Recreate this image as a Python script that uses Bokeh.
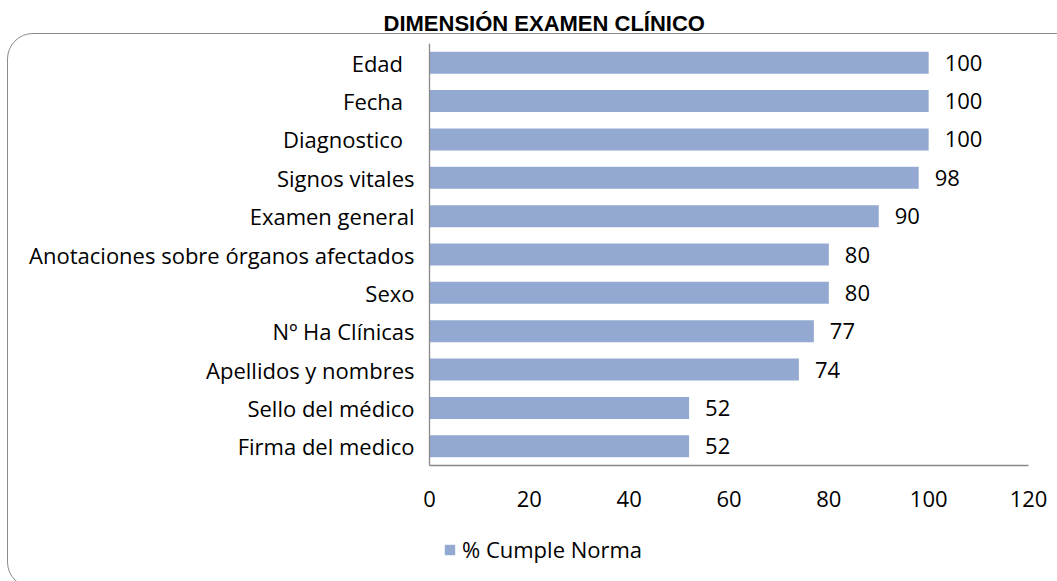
from bokeh.plotting import figure
from bokeh.models import ColumnDataSource, Legend, LegendItem, Range1d, InlineStyleSheet
from bokeh.embed import file_html
from bokeh.resources import INLINE
from bokeh.core.properties import value

# ---- data ----
categories = ["Edad", "Fecha", "Diagnostico", "Signos vitales", "Examen general",
              "Anotaciones sobre órganos afectados", "Sexo", "Nº Ha Clínicas",
              "Apellidos y nombres", "Sello del médico", "Firma del medico"]
values = [100, 100, 100, 98, 90, 80, 80, 77, 74, 52, 52]
x_ticks = [0, 20, 40, 60, 80, 100, 120]
series_name = "% Cumple Norma"
title_text = "DIMENSIÓN EXAMEN CLÍNICO"

# ---- styles / layout ----
FONT = "Open Sans"
FSIZE = "22px"
BAR = "#94a9d1"
AXIS = "#898989"
W = 1057
FRAME_H = 540
AXIS_LEFT_PX = 429      # pixel where x = 0 sits
AXIS_W_PX = 599         # pixel width of 0..120

border_css = InlineStyleSheet(css="""
:host { position: relative; overflow: hidden; }
:host::after {
  content: ""; position: absolute; left: 7px; top: 33px; width: 1120px; height: 555px;
  border: 1.6px solid #8c8c8c; border-radius: 26px; pointer-events: none;
  box-sizing: border-box;
}
""")

n = len(categories)
ypos = [n - 1 - i for i in range(n)]          # first category at the top
src = ColumnDataSource(dict(cat=categories, y=ypos, val=values, lbl=[str(v) for v in values]))

band_px = 422 / n
y_top = n - 0.5
y_bottom = y_top - FRAME_H / band_px
px_per_unit = AXIS_W_PX / x_ticks[-1]
x_start = -AXIS_LEFT_PX / px_per_unit
x_end = (W - AXIS_LEFT_PX) / px_per_unit

p = figure(frame_width=W, frame_height=FRAME_H,
           y_range=Range1d(y_bottom, y_top), x_range=Range1d(x_start, x_end),
           output_backend="svg", toolbar_location=None,
           min_border_left=0, min_border_right=0, min_border_top=41, min_border_bottom=0,
           stylesheets=[border_css])

p.title.text = title_text
p.title.text_font = "Liberation Sans"
p.title.text_font_style = "bold"
p.title.text_font_size = "22px"
p.title.align = "left"
p.title.offset = 383
p.title.standoff = 16
p.title.text_color = "black"

r = p.hbar(y="y", right="val", left=0, height=0.573, source=src,
           fill_color=BAR, line_color=None)

p.text(x="val", y="y", text="lbl", source=src, x_offset=16,
       text_baseline="middle", text_align="left",
       text_font=value(FONT), text_font_size=FSIZE, text_color="black")

p.xgrid.grid_line_color = None
p.ygrid.grid_line_color = None
p.outline_line_color = None

for ax in (p.xaxis[0], p.yaxis[0]):
    ax.axis_line_color = AXIS
    ax.axis_line_width = 1.3
    ax.major_tick_in = 0
    ax.major_tick_out = 0
    ax.minor_tick_in = 0
    ax.minor_tick_out = 0
    ax.major_label_text_font = FONT
    ax.major_label_text_font_size = FSIZE
    ax.major_label_text_color = "black"
    ax.axis_label = None

p.xaxis.ticker = x_ticks
p.xaxis.fixed_location = -0.5
p.xaxis.bounds = (x_ticks[0], x_ticks[-1])
p.xaxis.major_label_standoff = 25

trailing = {"Edad": "\u00a0\u00a0", "Fecha": "\u00a0\u00a0", "Diagnostico": "\u00a0\u00a0"}
p.yaxis.ticker = ypos
p.yaxis.fixed_location = 0
p.yaxis.bounds = (-0.5, n - 0.5)
p.yaxis.major_label_standoff = 15
p.yaxis.major_label_overrides = {y: c + trailing.get(c, "") for y, c in zip(ypos, categories)}

legend = Legend(items=[LegendItem(label=series_name, renderers=[r])],
                location=(443, 19), orientation="horizontal",
                glyph_width=13, glyph_height=13, label_standoff=6,
                label_text_font=FONT, label_text_font_size=FSIZE, label_text_color="black",
                border_line_color=None, background_fill_alpha=0,
                margin=0, padding=4)
p.add_layout(legend)

open("out.html", "w").write(file_html(p, INLINE))
